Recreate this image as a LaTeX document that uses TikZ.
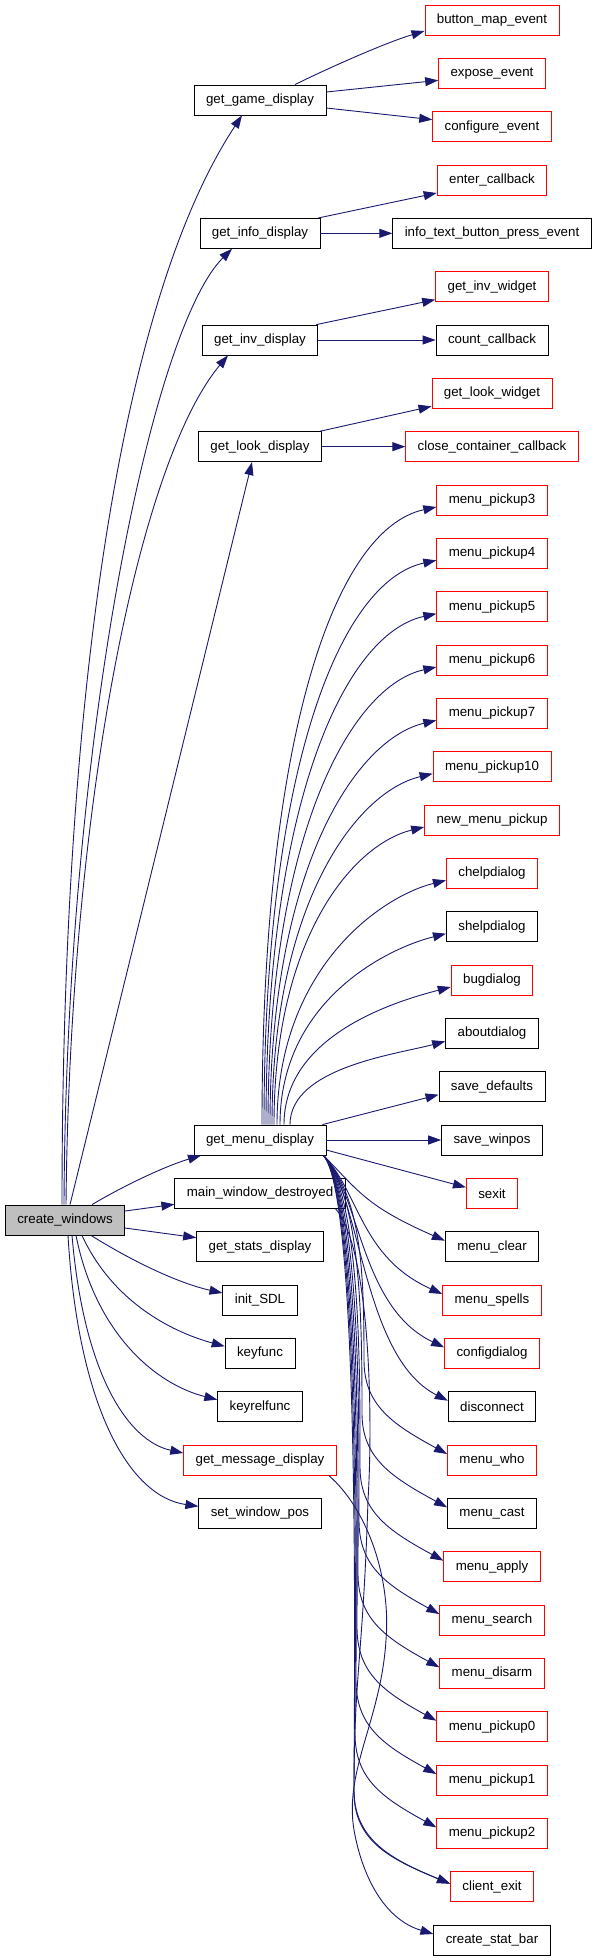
\documentclass[tikz,border=0pt]{standalone}
\usepackage{fontspec}
\setmainfont{Liberation Sans}
\usetikzlibrary{arrows.meta}
\definecolor{edgeblue}{HTML}{191970}
\definecolor{rootgray}{HTML}{BFBFBF}
\begin{document}
\begin{tikzpicture}[x=1pt,y=1pt,
  fn/.style={draw=black, line width=0.8pt, minimum height=30pt, inner xsep=12pt, inner ysep=0pt, font=\fontsize{13.3}{15}\selectfont},
  rn/.style={fn, draw=red},
  rootn/.style={fn, fill=rootgray},
  ed/.style={draw=edgeblue, line width=0.9pt, -{Triangle[length=13pt,width=9pt]}},
]
\useasboundingbox (0,0) rectangle (595,-1960);

% root
\node[rootn] (cw) at (65,-1220) {create\_windows};

% middle column
\node[fn] (gg) at (260,-100) {get\_game\_display};
\node[fn] (gi) at (260,-233.33) {get\_info\_display};
\node[fn] (ginv) at (260,-340) {get\_inv\_display};
\node[fn] (gl) at (260,-446.67) {get\_look\_display};
\node[fn] (gm) at (260,-1140) {get\_menu\_display};
\node[fn] (mwd) at (260,-1193.33) {main\_window\_destroyed};
\node[fn] (gs) at (260,-1246.67) {get\_stats\_display};
\node[fn] (isdl) at (260,-1300) {init\_SDL};
\node[fn] (kf) at (260,-1353.33) {keyfunc};
\node[fn] (krf) at (260,-1406.67) {keyrelfunc};
\node[rn] (gmd) at (260,-1460) {get\_message\_display};
\node[fn] (swp) at (260,-1513.33) {set\_window\_pos};

% right column
\node[rn] (bme) at (492,-20) {button\_map\_event};
\node[rn] (expe) at (492,-73.33) {expose\_event};
\node[rn] (cfg) at (492,-126.67) {configure\_event};
\node[rn] (ecb) at (492,-180) {enter\_callback};
\node[fn] (itb) at (492,-233.33) {info\_text\_button\_press\_event};
\node[rn] (giw) at (492,-286.67) {get\_inv\_widget};
\node[fn] (ccb) at (492,-340) {count\_callback};
\node[rn] (glw) at (492,-393.33) {get\_look\_widget};
\node[rn] (ccc) at (492,-446.67) {close\_container\_callback};
\node[rn] (mp3) at (492,-500) {menu\_pickup3};
\node[rn] (mp4) at (492,-553.33) {menu\_pickup4};
\node[rn] (mp5) at (492,-606.67) {menu\_pickup5};
\node[rn] (mp6) at (492,-660) {menu\_pickup6};
\node[rn] (mp7) at (492,-713.33) {menu\_pickup7};
\node[rn] (mp10) at (492,-766.67) {menu\_pickup10};
\node[rn] (nmp) at (492,-820) {new\_menu\_pickup};
\node[rn] (chd) at (492,-873.33) {chelpdialog};
\node[fn] (shd) at (492,-926.67) {shelpdialog};
\node[rn] (bug) at (492,-980) {bugdialog};
\node[fn] (abd) at (492,-1033.33) {aboutdialog};
\node[fn] (sdf) at (492,-1086.67) {save\_defaults};
\node[fn] (swpos) at (492,-1140) {save\_winpos};
\node[rn] (sexit) at (492,-1193.33) {sexit};
\node[fn] (mclr) at (492,-1246.67) {menu\_clear};
\node[rn] (mspl) at (492,-1300) {menu\_spells};
\node[rn] (cfgd) at (492,-1353.33) {configdialog};
\node[fn] (disc) at (492,-1406.67) {disconnect};
\node[rn] (mwho) at (492,-1460) {menu\_who};
\node[fn] (mcast) at (492,-1513.33) {menu\_cast};
\node[rn] (mapp) at (492,-1566.67) {menu\_apply};
\node[rn] (msrch) at (492,-1620) {menu\_search};
\node[rn] (mdis) at (492,-1673.33) {menu\_disarm};
\node[rn] (mp0) at (492,-1726.67) {menu\_pickup0};
\node[rn] (mp1) at (492,-1780) {menu\_pickup1};
\node[rn] (mp2) at (492,-1833.33) {menu\_pickup2};
\node[rn] (cex) at (492,-1886.67) {client\_exit};
\node[fn] (csb) at (492,-1940) {create\_stat\_bar};

% create_windows edges
\draw[ed] ([xshift=-3pt]cw.north) .. controls +(0,505) and +(-122,-185) .. ([xshift=-18pt]gg.south);
\draw[ed] ([xshift=-1pt]cw.north) .. controls +(2,455) and +(-82,-82) .. ([xshift=-28pt]gi.south);
\draw[ed] ([xshift=1pt]cw.north) .. controls +(4,405) and +(-88,-105) .. ([xshift=-32pt]ginv.south);
\draw[ed] ([xshift=5pt]cw.north) -- ([xshift=-8pt]gl.south);
\draw[ed] ([xshift=27pt]cw.north) .. controls +(25,15) and +(-40,-12) .. ([xshift=-59pt]gm.south);
\draw[ed] ([yshift=9pt]cw.east) -- ([yshift=-11pt]mwd.west);
\draw[ed] ([yshift=-8pt]cw.east) -- ([yshift=9pt]gs.west);
\draw[ed] ([xshift=26pt]cw.south) .. controls +(40,-25) and +(-45,10) .. ([yshift=7pt]isdl.west);
\draw[ed] ([xshift=17pt]cw.south) .. controls +(30,-65) and +(-55,15) .. ([yshift=7pt]kf.west);
\draw[ed] ([xshift=11pt]cw.south) .. controls +(20,-100) and +(-60,15) .. ([yshift=7pt]krf.west);
\draw[ed] ([xshift=7pt]cw.south) .. controls +(12,-140) and +(-55,12) .. ([yshift=7pt]gmd.west);
\draw[ed] ([xshift=3pt]cw.south) .. controls +(10,-170) and +(-70,10) .. ([yshift=7pt]swp.west);

% game display
\draw[ed] ([xshift=35pt]gg.north) .. controls +(30,15) and +(-40,-12) .. ([yshift=-11pt]bme.west);
\draw[ed] ([yshift=8pt]gg.east) -- ([yshift=-7pt]expe.west);
\draw[ed] ([yshift=-8pt]gg.east) -- ([yshift=7pt]cfg.west);
% info display
\draw[ed] ([xshift=-2pt]gi.north east) -- ([yshift=-13pt]ecb.west);
\draw[ed] (gi.east) -- (itb.west);
% inv display
\draw[ed] ([xshift=-2pt]ginv.north east) -- ([yshift=-13pt]giw.west);
\draw[ed] (ginv.east) -- (ccb.west);
% look display
\draw[ed] ([xshift=-2pt]gl.north east) -- ([yshift=-13pt]glw.west);
\draw[ed] (gl.east) -- (ccc.west);

% menu display, upward
\draw[ed] ([xshift=2pt]gm.north) .. controls +(0,388) and +(-102,-22) .. ([yshift=-7pt]mp3.west);
\draw[ed] ([xshift=4pt]gm.north) .. controls +(0,354) and +(-97,-21) .. ([yshift=-7pt]mp4.west);
\draw[ed] ([xshift=6pt]gm.north) .. controls +(0,321) and +(-92,-20) .. ([yshift=-7pt]mp5.west);
\draw[ed] ([xshift=8pt]gm.north) .. controls +(0,288) and +(-86,-19) .. ([yshift=-7pt]mp6.west);
\draw[ed] ([xshift=10pt]gm.north) .. controls +(0,255) and +(-81,-19) .. ([yshift=-7pt]mp7.west);
\draw[ed] ([xshift=12pt]gm.north) .. controls +(0,222) and +(-76,-18) .. ([yshift=-7pt]mp10.west);
\draw[ed] ([xshift=14pt]gm.north) .. controls +(0,189) and +(-70,-17) .. ([yshift=-7pt]nmp.west);
\draw[ed] ([xshift=17pt]gm.north) .. controls +(0,156) and +(-65,-16) .. ([yshift=-7pt]chd.west);
\draw[ed] ([xshift=20pt]gm.north) .. controls +(0,123) and +(-60,-15) .. ([yshift=-7pt]shd.west);
\draw[ed] ([xshift=24pt]gm.north) .. controls +(0,90) and +(-54,-14) .. ([yshift=-7pt]bug.west);
\draw[ed] ([xshift=30pt]gm.north) .. controls +(0,57) and +(-49,-13) .. ([yshift=-8pt]abd.west);
\draw[ed] ([xshift=-4pt]gm.north east) -- ([yshift=-8pt]sdf.west);
\draw[ed] (gm.east) -- (swpos.west);
\draw[ed] ([yshift=-10pt]gm.east) -- ([yshift=6pt]sexit.west);

% menu display, downward (near targets)
\draw[ed] ([xshift=-3pt]gm.south east) .. controls +(35,-35) and +(-80,35) .. ([yshift=6pt]mclr.west);
\draw[ed] ([xshift=-3pt]gm.south east) .. controls +(36,-37) and +(-82,37) .. ([yshift=6pt]mspl.west);
\draw[ed] ([xshift=-3pt]gm.south east) .. controls +(37,-39) and +(-84,40) .. ([yshift=6pt]cfgd.west);
\draw[ed] ([xshift=-3pt]gm.south east) .. controls +(38,-41) and +(-85,43) .. ([yshift=6pt]disc.west);
% menu display, downward (far targets, via the bundle)
\foreach \t/\yy/\xm in {mwho/1460/364, mcast/1513.33/362, mapp/1566.67/360, msrch/1620/359, mdis/1673.33/358, mp0/1726.67/357, mp1/1780/356, mp2/1833.33/355}
  \draw[ed] ([xshift=-3pt]gm.south east) .. controls +(38,-42) and +(0,90) .. (\xm,-\yy+100)
     .. controls +(0,-45) and +(-55,30) .. ([yshift=6pt]\t.west);
\draw[ed] ([xshift=-3pt]gm.south east) .. controls +(38,-42) and +(0,90) .. (354,-1790)
     .. controls +(0,-50) and +(-58,24) .. ([yshift=3pt]cex.west);

% other long edges
\draw[ed] ([xshift=-10pt]mwd.south east) .. controls +(35,-40) and +(5,80) .. (368,-1500)
     .. controls +(-5,-160) and +(0,120) .. (354,-1792)
     .. controls +(0,-50) and +(-58,24) .. ([yshift=3pt]cex.west);
\draw[ed] ([xshift=-8pt]gmd.south east) .. controls +(40,-35) and +(5,60) .. (386,-1640)
     .. controls +(-5,-80) and +(-10,60) .. (354,-1830)
     .. controls +(8,-45) and +(-50,15) .. ([yshift=6pt]csb.west);
\end{tikzpicture}
\end{document}
